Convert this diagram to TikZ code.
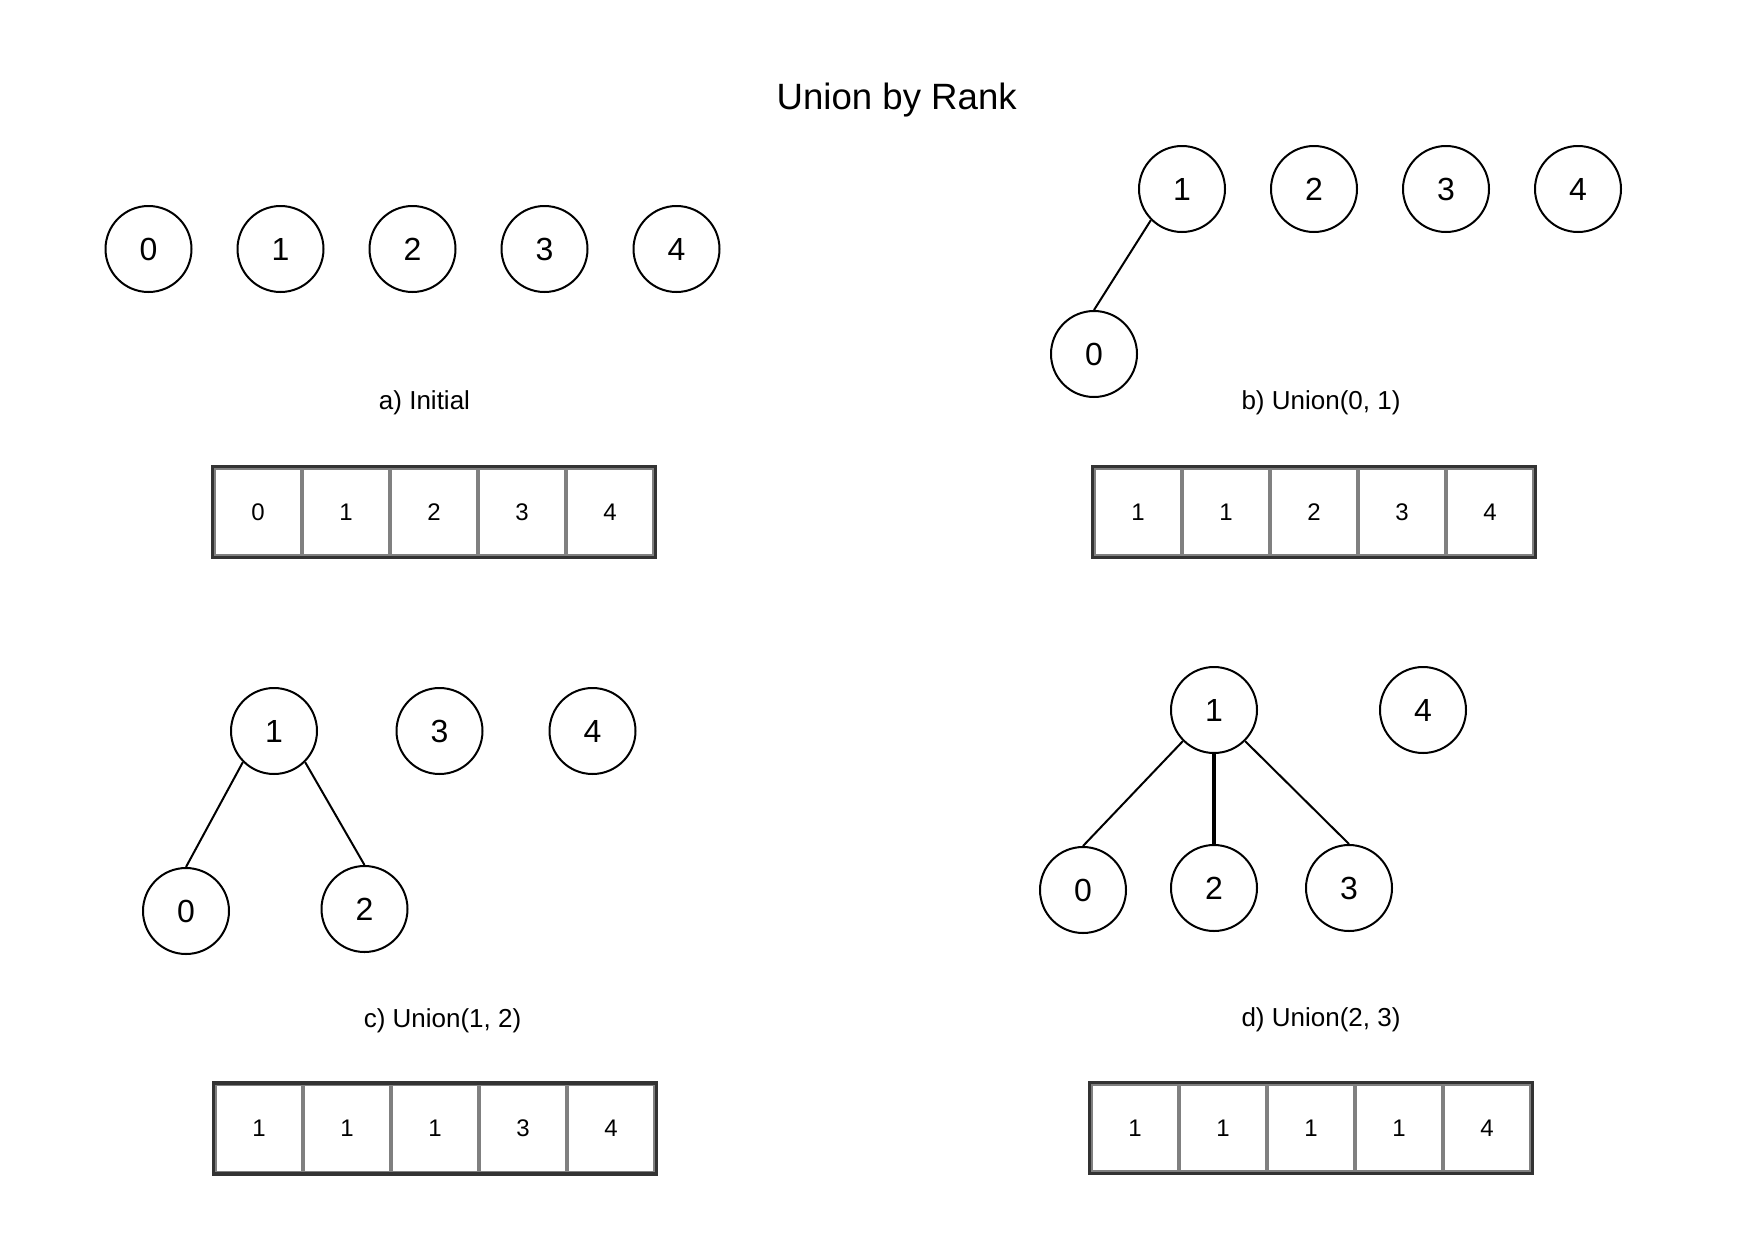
\documentclass[tikz,border=0pt]{standalone}
\usepackage{fontspec}
\setmainfont{Liberation Sans}
\definecolor{cellgray}{HTML}{808080}
\definecolor{boxgray}{HTML}{333333}

\begin{document}
\begin{tikzpicture}[
    x=0.5pt,y=-0.5pt,
    vertex/.style={draw,circle,line width=1pt,minimum size=43pt,inner sep=0pt,font=\fontsize{16}{19}\selectfont},
    cell/.style={draw=cellgray,line width=1.6pt,minimum width=44pt,minimum height=44pt,inner sep=0pt,font=\fontsize{12}{14}\selectfont},
    arraybox/.style={draw=boxgray,line width=1.75pt},
    caption/.style={anchor=base,font=\fontsize{13}{16}\selectfont},
    treeline/.style={line width=1pt}
]
\useasboundingbox (0,0) rectangle (1750,1258);

\node[anchor=base,font=\fontsize{18.3}{22}\selectfont] (title) at (896.7,109.3) {Union by Rank};

%Draw the sets: a) Initial
\node[vertex] (a0) at (148.5,249) {0};
\node[vertex] (a1) at (280.5,249) {1};
\node[vertex] (a2) at (412.5,249) {2};
\node[vertex] (a3) at (544.5,249) {3};
\node[vertex] (a4) at (676.5,249) {4};
\node[caption] (la) at (424.5,409.3) {a) Initial};

%Draw the sets: b) Union(0, 1)
\node[vertex] (b1) at (1182,189) {1};
\node[vertex] (b2) at (1314,189) {2};
\node[vertex] (b3) at (1446,189) {3};
\node[vertex] (b4) at (1578,189) {4};
\node[vertex] (b0) at (1094,354) {0};
\node[caption] (lb) at (1321,409.3) {b) Union(0, 1)};

%Draw the sets: c) Union(1, 2)
\node[vertex] (c1) at (274,731) {1};
\node[vertex] (c3) at (439.5,731) {3};
\node[vertex] (c4) at (592.5,731) {4};
\node[vertex] (c0) at (186,911) {0};
\node[vertex] (c2) at (364.5,909) {2};
\node[caption] (lc) at (442.5,1027.5) {c) Union(1, 2)};

%Draw the sets: d) Union(2, 3)
\node[vertex] (d1) at (1214,710) {1};
\node[vertex] (d4) at (1423,710) {4};
\node[vertex] (d0) at (1083,890) {0};
\node[vertex] (d2) at (1214,888) {2};
\node[vertex] (d3) at (1349,888) {3};
\node[caption] (ld) at (1321,1026) {d) Union(2, 3)};

%Draw the connections
\draw[treeline] (b0.north) -- (b1.south west);
\draw[treeline] (c0.north) -- (c1.south west);
\draw[treeline] (c2.north) -- (c1.south east);
\draw[treeline] (d0.north) -- (d1.south west);
\draw[treeline,line width=2pt] (d2) -- (d1);
\draw[treeline] (d3.north) -- (d1.south east);

%Draw the parent arrays
\node[cell] (pa0) at (258,512) {0};
\node[cell] (pa1) at (346,512) {1};
\node[cell] (pa2) at (434,512) {2};
\node[cell] (pa3) at (522,512) {3};
\node[cell] (pa4) at (610,512) {4};
\draw[arraybox] (pa0.north west) rectangle (pa4.south east);

\node[cell] (pb0) at (1138,512) {1};
\node[cell] (pb1) at (1226,512) {1};
\node[cell] (pb2) at (1314,512) {2};
\node[cell] (pb3) at (1402,512) {3};
\node[cell] (pb4) at (1490,512) {4};
\draw[arraybox] (pb0.north west) rectangle (pb4.south east);

\node[cell] (pc0) at (259,1128.5) {1};
\node[cell] (pc1) at (347,1128.5) {1};
\node[cell] (pc2) at (435,1128.5) {1};
\node[cell] (pc3) at (523,1128.5) {3};
\node[cell] (pc4) at (611,1128.5) {4};
\draw[arraybox] (pc0.north west) rectangle (pc4.south east);

\node[cell] (pd0) at (1135,1128) {1};
\node[cell] (pd1) at (1223,1128) {1};
\node[cell] (pd2) at (1311,1128) {1};
\node[cell] (pd3) at (1399,1128) {1};
\node[cell] (pd4) at (1487,1128) {4};
\draw[arraybox] (pd0.north west) rectangle (pd4.south east);

\end{tikzpicture}
\end{document}
